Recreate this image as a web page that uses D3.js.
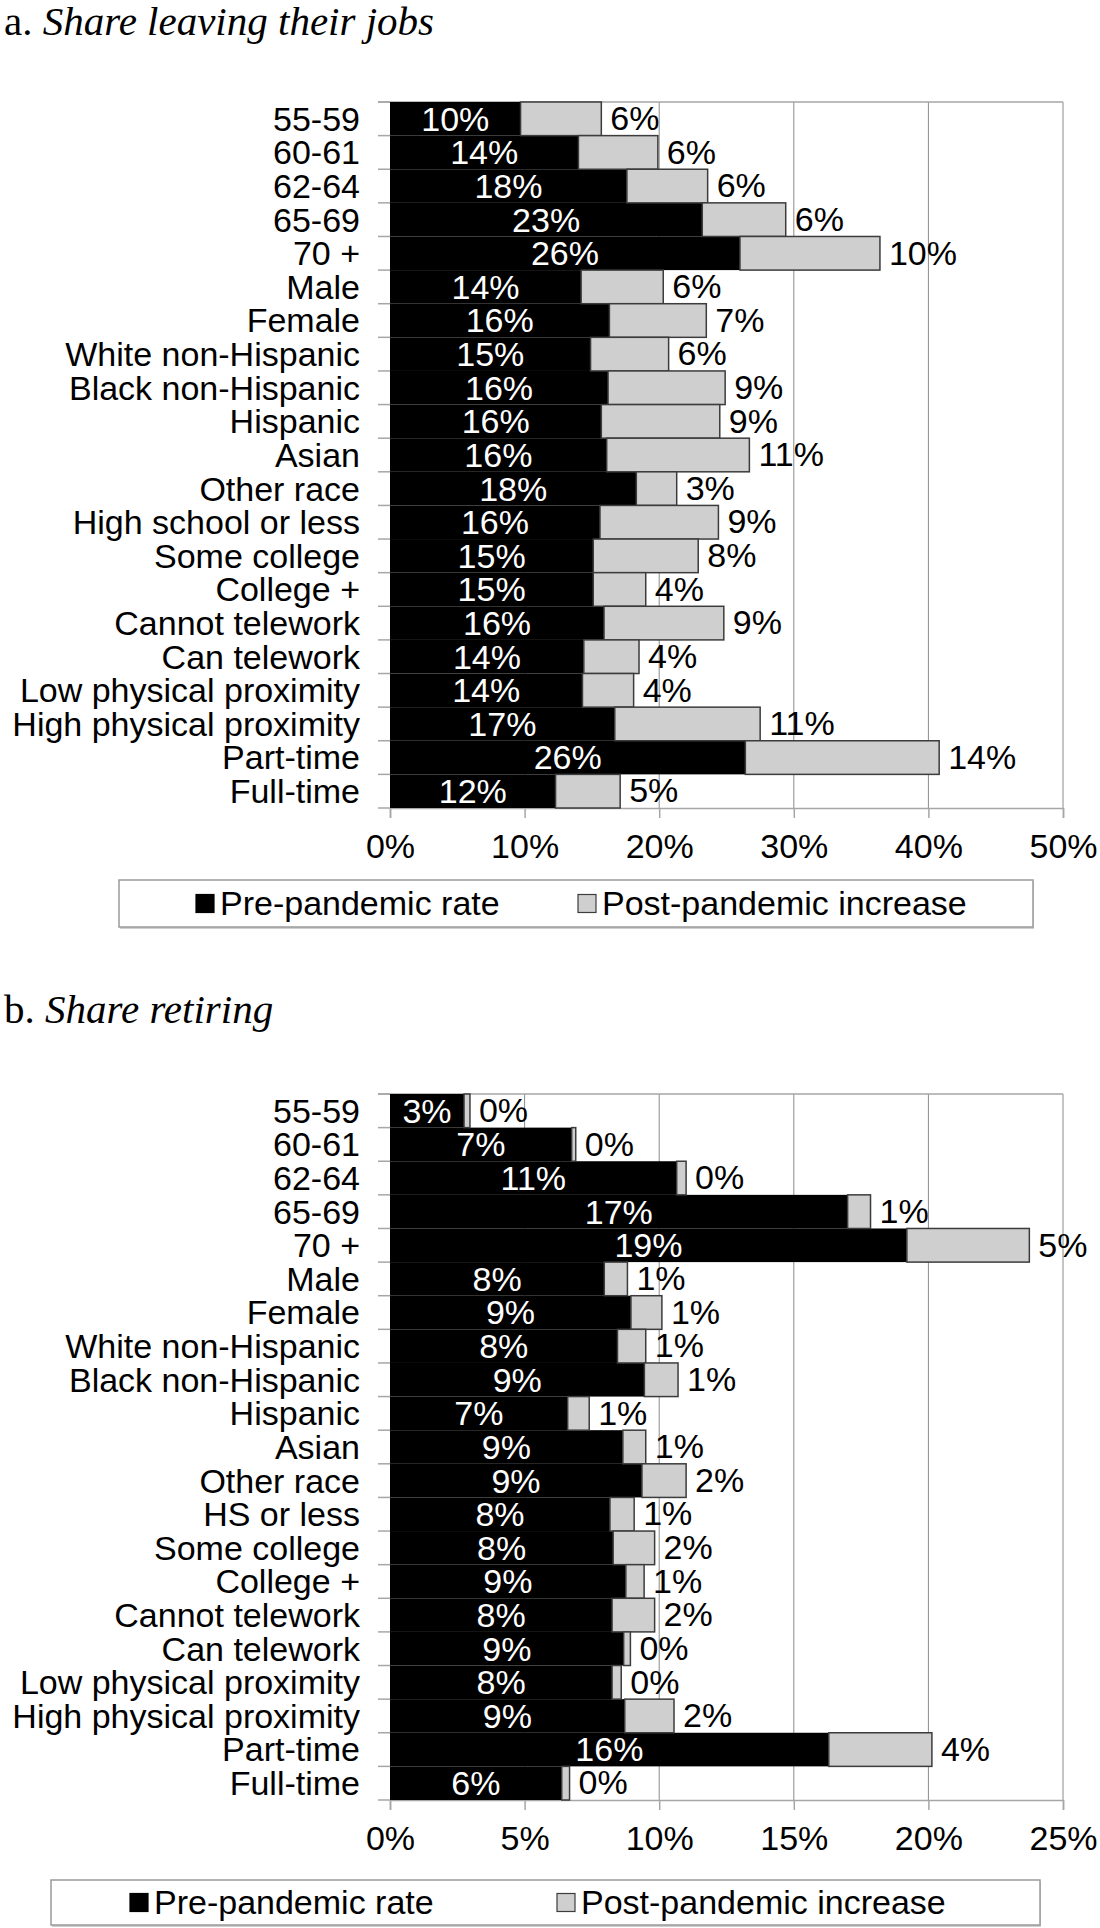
<!DOCTYPE html>
<html>
<head>
<meta charset="utf-8">
<script src="https://cdn.jsdelivr.net/npm/d3@7"></script>
<style>
  body { margin: 0; background: #fff; }
  svg text { font-family: "Liberation Sans", Arial, sans-serif; }
</style>
</head>
<body>
<div id="chart-area"></div>
<script>
// Panel a - share leaving their jobs (percent)
const categoriesA = ["55-59", "60-61", "62-64", "65-69", "70 +", "Male", "Female",
  "White non-Hispanic", "Black non-Hispanic", "Hispanic", "Asian", "Other race",
  "High school or less", "Some college", "College +", "Cannot telework", "Can telework",
  "Low physical proximity", "High physical proximity", "Part-time", "Full-time"];
const preA = [9.7, 14.0, 17.6, 23.2, 26.0, 14.2, 16.3, 14.9, 16.2, 15.7, 16.1, 18.3,
  15.6, 15.1, 15.1, 15.9, 14.4, 14.3, 16.7, 26.4, 12.3];
const incA = [6.0, 5.9, 6.0, 6.2, 10.4, 6.1, 7.2, 5.8, 8.7, 8.8, 10.6, 3.0,
  8.8, 7.8, 3.9, 8.9, 4.1, 3.8, 10.8, 14.4, 4.8];
const ticksA = [0, 10, 20, 30, 40, 50];

// Panel b - share retiring (percent)
const categoriesB = ["55-59", "60-61", "62-64", "65-69", "70 +", "Male", "Female",
  "White non-Hispanic", "Black non-Hispanic", "Hispanic", "Asian", "Other race",
  "HS or less", "Some college", "College +", "Cannot telework", "Can telework",
  "Low physical proximity", "High physical proximity", "Part-time", "Full-time"];
const preB = [2.75, 6.75, 10.65, 17.0, 19.2, 7.96, 8.95, 8.45, 9.45, 6.6, 8.65, 9.36,
  8.17, 8.29, 8.76, 8.25, 8.68, 8.25, 8.72, 16.3, 6.38];
const incB = [0.22, 0.15, 0.35, 0.85, 4.55, 0.86, 1.15, 1.05, 1.25, 0.8, 0.85, 1.64,
  0.9, 1.54, 0.68, 1.58, 0.25, 0.34, 1.83, 3.83, 0.29];
const ticksB = [0, 5, 10, 15, 20, 25];

const seriesNames = ["Pre-pandemic rate", "Post-pandemic increase"];

const width = 1100;
const height = 1928;
const fontSize = 34;
const grayFill = "#cfcfcf";
const grayStroke = "#3c3c3c";
const gridColor = "#8a8a8a";

const svg = d3.select("#chart-area")
  .append("svg")
  .attr("width", width)
  .attr("height", height);

function drawTitle(y, letter, title) {
  const t = svg.append("text")
    .attr("x", 4)
    .attr("y", y)
    .style("font-family", '"Liberation Serif", "Times New Roman", serif')
    .style("font-size", "41px")
    .attr("fill", "#000");
  t.append("tspan").text(letter + " ");
  t.append("tspan").style("font-style", "italic").text(title);
}

function drawPanel(cats, pre, inc, ticks, top, bottom) {
  const x = d3.scaleLinear()
    .domain([ticks[0], ticks[ticks.length - 1]])
    .range([390, 1063]);
  const y = d3.scaleBand()
    .domain(cats)
    .range([top, bottom])
    .padding(0);

  const rows = cats.map((c, i) => ({ cat: c, pre: pre[i], inc: inc[i] }));
  const g = svg.append("g");

  // gridlines + top frame line
  g.append("g").selectAll("line")
    .data(ticks.slice(1))
    .join("line")
    .attr("x1", d => x(d)).attr("x2", d => x(d))
    .attr("y1", top).attr("y2", bottom)
    .attr("stroke", gridColor).attr("stroke-width", 1);
  g.append("line")
    .attr("x1", x.range()[0] - 12).attr("x2", x.range()[1])
    .attr("y1", top).attr("y2", top)
    .attr("stroke", "#a6a6a6").attr("stroke-width", 1.5);

  // left ticks at row boundaries
  const bounds = cats.map(c => y(c)).concat([bottom]);
  g.append("g").selectAll("line")
    .data(bounds)
    .join("line")
    .attr("x1", x.range()[0] - 12).attr("x2", x.range()[0])
    .attr("y1", d => d).attr("y2", d => d)
    .attr("stroke", "#a6a6a6").attr("stroke-width", 1.5);

  // x axis
  const xAxis = g.append("g")
    .attr("transform", `translate(0,${bottom})`)
    .call(d3.axisBottom(x).tickValues(ticks).tickFormat(d => d + "%").tickSize(10).tickPadding(16));
  xAxis.select(".domain").attr("stroke", "#a6a6a6").attr("stroke-width", 1.5);
  xAxis.selectAll(".tick line").attr("stroke", "#a6a6a6").attr("stroke-width", 1.5);
  xAxis.selectAll(".tick text")
    .style("font-family", '"Liberation Sans", Arial, sans-serif')
    .style("font-size", fontSize + "px")
    .attr("fill", "#000");

  // bars
  g.append("g").selectAll("rect")
    .data(rows)
    .join("rect")
    .attr("x", x(0))
    .attr("y", d => y(d.cat))
    .attr("width", d => x(d.pre) - x(0))
    .attr("height", y.bandwidth())
    .attr("fill", "#000");

  g.append("g").selectAll("rect")
    .data(rows)
    .join("rect")
    .attr("x", d => x(d.pre))
    .attr("y", d => y(d.cat))
    .attr("width", d => x(d.pre + d.inc) - x(d.pre))
    .attr("height", y.bandwidth())
    .attr("fill", grayFill)
    .attr("stroke", grayStroke)
    .attr("stroke-width", 1.5);

  // category labels
  g.append("g").selectAll("text")
    .data(rows)
    .join("text")
    .attr("x", 360)
    .attr("y", d => y(d.cat) + y.bandwidth() / 2)
    .attr("dy", "0.35em")
    .attr("text-anchor", "end")
    .style("font-size", fontSize + "px")
    .text(d => d.cat);

  // value labels
  g.append("g").selectAll("text")
    .data(rows)
    .join("text")
    .attr("x", d => (x(0) + x(d.pre)) / 2)
    .attr("y", d => y(d.cat) + y.bandwidth() / 2)
    .attr("dy", "0.35em")
    .attr("text-anchor", "middle")
    .attr("fill", "#fff")
    .style("font-size", fontSize + "px")
    .text(d => Math.round(d.pre) + "%");

  g.append("g").selectAll("text")
    .data(rows)
    .join("text")
    .attr("x", d => x(d.pre + d.inc) + 9)
    .attr("y", d => y(d.cat) + y.bandwidth() / 2)
    .attr("dy", "0.33em")
    .attr("text-anchor", "start")
    .attr("fill", "#000")
    .style("font-size", fontSize + "px")
    .text(d => Math.round(d.inc) + "%");
}

function drawLegend(x0, x1, top, bottom, item1x, item2x) {
  const g = svg.append("g");
  g.append("rect")
    .attr("x", x0 + 1).attr("y", top + 2)
    .attr("width", x1 - x0).attr("height", bottom - top)
    .attr("fill", "#cfcfcf");
  g.append("rect")
    .attr("x", x0).attr("y", top)
    .attr("width", x1 - x0).attr("height", bottom - top)
    .attr("fill", "#fff").attr("stroke", "#9a9a9a").attr("stroke-width", 1.5);
  const cy = (top + bottom) / 2;
  const items = [
    { name: seriesNames[0], fill: "#000", stroke: "#000", x: item1x },
    { name: seriesNames[1], fill: grayFill, stroke: grayStroke, x: item2x }
  ];
  const it = g.selectAll("g.item").data(items).join("g").attr("class", "item");
  it.append("rect")
    .attr("x", d => d.x).attr("y", cy - 9)
    .attr("width", 18).attr("height", 18)
    .attr("fill", d => d.fill).attr("stroke", d => d.stroke).attr("stroke-width", 1.2);
  it.append("text")
    .attr("x", d => d.x + 24)
    .attr("y", cy)
    .attr("dy", "0.35em")
    .style("font-size", fontSize + "px")
    .text(d => d.name);
}

drawTitle(35, "a.", "Share leaving their jobs");
drawPanel(categoriesA, preA, incA, ticksA, 102, 808);
drawLegend(119, 1033, 880, 927, 196, 578);

drawTitle(1023, "b.", "Share retiring");
drawPanel(categoriesB, preB, incB, ticksB, 1094, 1800);
drawLegend(51, 1040, 1880, 1925, 130, 557);
</script>
</body>
</html>
